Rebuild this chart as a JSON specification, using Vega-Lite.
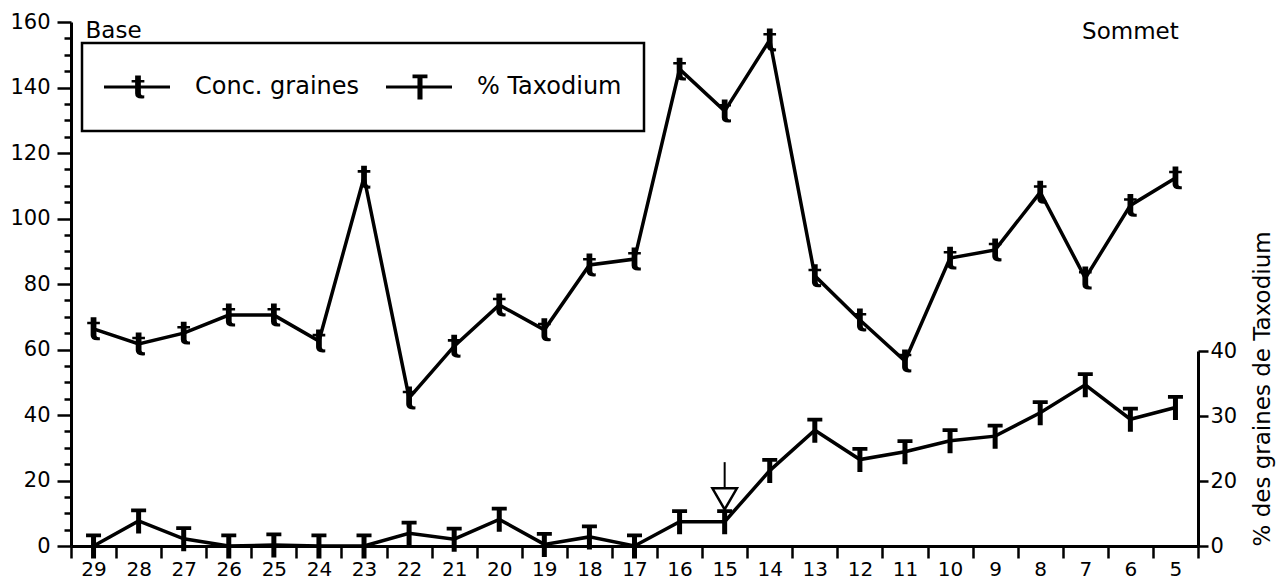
{
  "$schema": "https://vega.github.io/schema/vega-lite/v6.json",
  "width": 1127,
  "height": 524,
  "autosize": {"type": "none"},
  "padding": {"left": 71, "top": 22, "right": 89, "bottom": 34},
  "background": "white",
  "config": {
    "view": {"stroke": null},
    "font": "DejaVu Sans",
    "axis": {
      "grid": false,
      "domainColor": "black",
      "tickColor": "black",
      "labelColor": "black",
      "titleColor": "black",
      "labelFont": "DejaVu Sans",
      "titleFont": "DejaVu Sans",
      "titleFontWeight": "normal",
      "labelFontSize": 21
    },
    "legend": {"strokeWidth": 2.5}
  },
  "datasets": {
    "profil": [
      {"ech": "29", "conc": 66.3, "taxo": 0},
      {"ech": "28", "conc": 61.7, "taxo": 7.7},
      {"ech": "27", "conc": 65.0, "taxo": 2.2},
      {"ech": "26", "conc": 70.5, "taxo": 0},
      {"ech": "25", "conc": 70.5, "taxo": 0.3},
      {"ech": "24", "conc": 62.6, "taxo": 0},
      {"ech": "23", "conc": 112.6, "taxo": 0},
      {"ech": "22", "conc": 45.2, "taxo": 3.9},
      {"ech": "21", "conc": 61.0, "taxo": 2.1},
      {"ech": "20", "conc": 73.6, "taxo": 8.2},
      {"ech": "19", "conc": 66.0, "taxo": 0.5},
      {"ech": "18", "conc": 85.8, "taxo": 2.8},
      {"ech": "17", "conc": 87.6, "taxo": 0},
      {"ech": "16", "conc": 145.6, "taxo": 7.5},
      {"ech": "15", "conc": 132.8, "taxo": 7.5},
      {"ech": "14", "conc": 154.5, "taxo": 21.6},
      {"ech": "13", "conc": 82.5, "taxo": 27.8},
      {"ech": "12", "conc": 69.0, "taxo": 23.3},
      {"ech": "11", "conc": 56.5, "taxo": 24.5},
      {"ech": "10", "conc": 87.9, "taxo": 26.2},
      {"ech": "9", "conc": 90.4, "taxo": 26.9},
      {"ech": "8", "conc": 108.0, "taxo": 30.5},
      {"ech": "7", "conc": 81.8, "taxo": 34.8},
      {"ech": "6", "conc": 104.0, "taxo": 29.5},
      {"ech": "5", "conc": 112.4, "taxo": 31.3}
    ],
    "reperes": [
      {"ech": "29", "conc": 157.2, "libelle": "Base", "cote": "left"},
      {"ech": "6", "conc": 157, "libelle": "Sommet", "cote": "center"}
    ],
    "fleche": [{"ech": "15", "haut": 22.9, "bas": 17.8, "pointe": 14.5}],
    "series": [{"serie": "Conc. graines"}, {"serie": "% Taxodium"}]
  },
  "layer": [
    {
      "encoding": {
        "x": {
          "field": "ech",
          "type": "nominal",
          "sort": null,
          "scale": {"type": "band", "paddingInner": 0, "paddingOuter": 0},
          "axis": {
            "title": null,
            "labelAngle": 0,
            "tickBand": "extent",
            "tickSize": 12,
            "tickWidth": 2.5,
            "domainWidth": 3,
            "labelPadding": 1,
            "labelFontSize": 20
          }
        },
        "y": {
          "field": "conc",
          "type": "quantitative",
          "scale": {"domain": [0, 160], "nice": false, "zero": false},
          "axis": {
            "orient": "left",
            "title": null,
            "values": [0, 5, 10, 15, 20, 25, 30, 35, 40, 45, 50, 55, 60, 65, 70, 75, 80, 85, 90, 95, 100, 105, 110, 115, 120, 125, 130, 135, 140, 145, 150, 155, 160],
            "labelExpr": "datum.value % 20 === 0 ? datum.label : ''",
            "labelOverlap": false,
            "tickSize": {"condition": {"test": "datum.value % 20 !== 0", "value": 7}, "value": 14},
            "tickWidth": 2.5,
            "domainWidth": 3,
            "labelPadding": 7,
            "labelFontSize": 21
          }
        }
      },
      "layer": [
        {"data": {"name": "profil"}, "mark": {"type": "line", "color": "black", "strokeWidth": 3.5}},
        {
          "data": {"name": "profil"},
          "mark": {
            "type": "point",
            "shape": "M-0.25,-1H0.25V0.55Q0.25,0.78 0.55,0.72V0.98Q-0.25,1.08 -0.25,0.55ZM-0.55,-0.62H0.55V-0.4H-0.55Z",
            "size": 529,
            "filled": true,
            "color": "black",
            "opacity": 1
          }
        },
        {
          "data": {"name": "reperes"},
          "transform": [{"filter": "datum.cote === 'left'"}],
          "mark": {"type": "text", "align": "left", "baseline": "middle", "dx": -8, "fontSize": 23, "font": "DejaVu Sans", "color": "black"},
          "encoding": {"text": {"field": "libelle"}}
        },
        {
          "data": {"name": "reperes"},
          "transform": [{"filter": "datum.cote === 'center'"}],
          "mark": {"type": "text", "align": "center", "baseline": "middle", "fontSize": 23, "font": "DejaVu Sans", "color": "black"},
          "encoding": {"text": {"field": "libelle"}}
        }
      ]
    },
    {
      "encoding": {
        "x": {"field": "ech", "type": "nominal", "sort": null},
        "y": {
          "field": "taxo",
          "type": "quantitative",
          "scale": {"domain": [0, 20, 40], "range": [524, 459, 329], "nice": false, "zero": false},
          "axis": {
            "orient": "right",
            "values": [0, 20, 30, 40],
            "tickSize": 10,
            "tickWidth": 2.5,
            "domainWidth": 3,
            "labelPadding": 2,
            "labelFontSize": 21,
            "labelOverlap": false,
            "title": "% des graines de Taxodium",
            "titleFontSize": 23,
            "titleAngle": 270,
            "titleAnchor": "start",
            "titleAlign": "left",
            "titlePadding": 38
          }
        }
      },
      "layer": [
        {"data": {"name": "profil"}, "mark": {"type": "line", "color": "black", "strokeWidth": 3.5}},
        {
          "data": {"name": "profil"},
          "mark": {
            "type": "point",
            "shape": "M-0.6,-1H0.6V-0.7H-0.6ZM-0.2,-1H0.2V1H-0.2Z",
            "size": 625,
            "filled": true,
            "color": "black",
            "opacity": 1
          }
        },
        {
          "data": {"name": "fleche"},
          "mark": {"type": "rule", "color": "black", "strokeWidth": 2},
          "encoding": {
            "y": {"field": "haut", "type": "quantitative"},
            "y2": {"field": "bas"}
          }
        },
        {
          "data": {"name": "fleche"},
          "mark": {"type": "point", "shape": "triangle-down", "size": 600, "filled": false, "color": "black", "strokeWidth": 2.5, "opacity": 1},
          "encoding": {
            "y": {"field": "pointe", "type": "quantitative"}
          }
        }
      ]
    },
    {
      "data": {"name": "series"},
      "mark": {"type": "point", "filled": true, "color": "black", "opacity": 0},
      "encoding": {
        "shape": {
          "field": "serie",
          "type": "nominal",
          "sort": null,
          "scale": {
            "domain": ["Conc. graines", "% Taxodium"],
            "range": [
              "M0.55,-1M0.55,1M-1,-0.07H2V0.07H-1ZM0.415,-0.52H0.675V0.29Q0.675,0.41 0.83,0.38V0.51Q0.415,0.565 0.415,0.29ZM0.255,-0.32H0.835V-0.21H0.255Z",
              "M0.55,-1M0.55,1M-1,-0.07H2V0.07H-1ZM0.205,-0.57H0.885V-0.4H0.205ZM0.43,-0.57H0.66V0.57H0.43Z"
            ]
          },
          "legend": {
            "orient": "none",
            "legendX": 11,
            "legendY": 21,
            "direction": "horizontal",
            "title": null,
            "strokeColor": "black",
            "padding": 22,
            "symbolSize": 1936,
            "symbolStrokeWidth": 0,
            "symbolFillColor": "black",
            "symbolOpacity": 1,
            "labelFont": "DejaVu Sans",
            "labelFontSize": 24,
            "labelColor": "black",
            "labelOffset": 47,
            "labelLimit": 0,
            "columnPadding": 26,
            "gridAlign": "all",
            "encode": {
              "legend": {"update": {"strokeWidth": {"value": 2.5}}},
              "symbols": {
                "update": {
                  "opacity": {"value": 1},
                  "fill": {"value": "black"},
                  "fillOpacity": {"value": 1}
                }
              }
            }
          }
        }
      }
    }
  ],
  "resolve": {"scale": {"y": "independent"}}
}
